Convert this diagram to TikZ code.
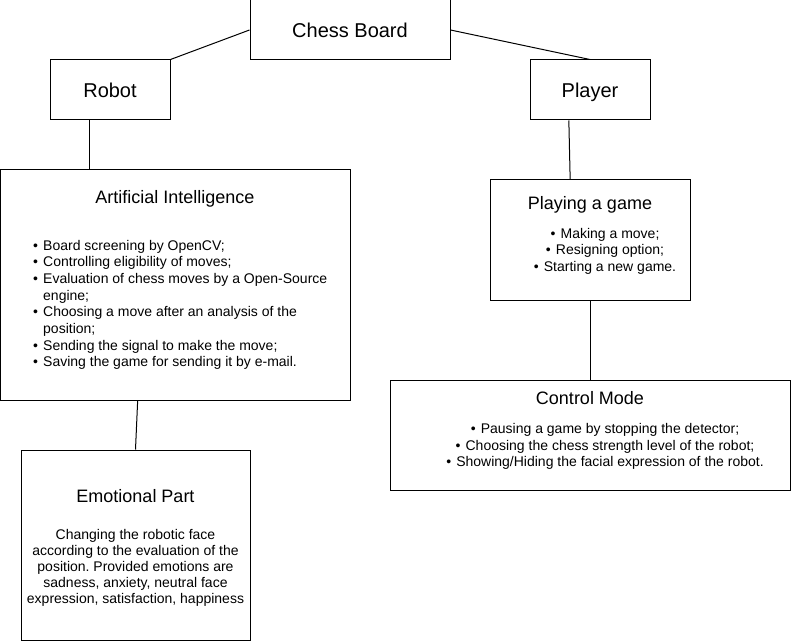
\documentclass[tikz,border=0pt]{standalone}
\usepackage{fontspec}
\setmainfont{Liberation Sans}
\frenchspacing

\newcommand{\bul}{\makebox[7.5pt][l]{\textbullet}}

\tikzset{
  box/.style={draw, inner sep=0pt},
  big/.style={font=\fontsize{15}{18}\selectfont, text height=10.7pt, text depth=0pt},
  head/.style={font=\fontsize{13.5}{16}\selectfont, text height=9.7pt, text depth=0pt, inner sep=0pt},
  small/.style={font=\fontsize{10.5}{12.5}\selectfont, inner sep=0pt},
}

\begin{document}
\begin{tikzpicture}[x=0.75pt, y=-0.75pt, line width=0.75pt]
    \useasboundingbox (0,0) rectangle (791,641);
    \node[box, big, minimum width=150pt, minimum height=45pt] (board) at (350,30) {Chess Board};
    \node[box, big, minimum width=90pt, minimum height=45pt] (robot) at (110,90) {Robot};
    \node[box, big, minimum width=90pt, minimum height=45pt] (player) at (590,90) {Player};
    \node[box, minimum width=262.5pt, minimum height=172.5pt] (ai) at (175,285) {};
    \node[box, minimum width=150pt, minimum height=90pt] (game) at (590,240) {};
    \node[box, minimum width=300pt, minimum height=82.5pt] (control) at (590,435) {};
    \node[box, minimum width=171.75pt, minimum height=142.5pt] (emotion) at (135.5,545) {};

    \node[head] (ai-title) at (175,197) {Artificial Intelligence};
    \node[head] (game-title) at (590,203) {Playing a game};
    \node[head] (control-title) at (590,398) {Control Mode};
    \node[head] (emotion-title) at (135.5,496) {Emotional Part};

    \node[small, anchor=west] (ai-list) at (32.7,305) {\begin{tabular}{@{}l@{}}
        \bul Board screening by OpenCV;\\
        \bul Controlling eligibility of moves;\\
        \bul Evaluation of chess moves by a Open-Source\\
        \hspace{7.5pt}engine;\\
        \bul Choosing a move after an analysis of the\\
        \hspace{7.5pt}position;\\
        \bul Sending the signal to make the move;\\
        \bul Saving the game for sending it by e-mail.
    \end{tabular}};
    \node[small] (game-list) at (605,251.5) {\begin{tabular}{@{}c@{}}
        \bul Making a move;\\
        \bul Resigning option;\\
        \bul Starting a new game.
    \end{tabular}};
    \node[small] (control-list) at (605,446.7) {\begin{tabular}{@{}c@{}}
        \bul Pausing a game by stopping the detector;\\
        \bul Choosing the chess strength level of the robot;\\
        \bul Showing/Hiding the facial expression of the robot.
    \end{tabular}};
    \node[small, font=\fontsize{10.5}{12}\selectfont] (emotion-text) at (135.5,568) {\begin{tabular}{@{}c@{}}
        Changing the robotic face\\
        according to the evaluation of the\\
        position. Provided emotions are\\
        sadness, anxiety, neutral face\\
        expression, satisfaction, happiness
    \end{tabular}};

    \draw (board.west) -- (robot.north east);
    \draw (board.east) -- (player.north);
    \draw ([xshift=30pt]robot.south west) -- ([xshift=30pt]robot.south west |- ai.north);
    \draw ([xshift=29.5pt]player.south west) -- ([xshift=60.5pt]game.north west);
    \draw (game.south) -- (control.north);
    \draw ([xshift=-28pt]ai.south) -- (emotion.north);
\end{tikzpicture}
\end{document}
